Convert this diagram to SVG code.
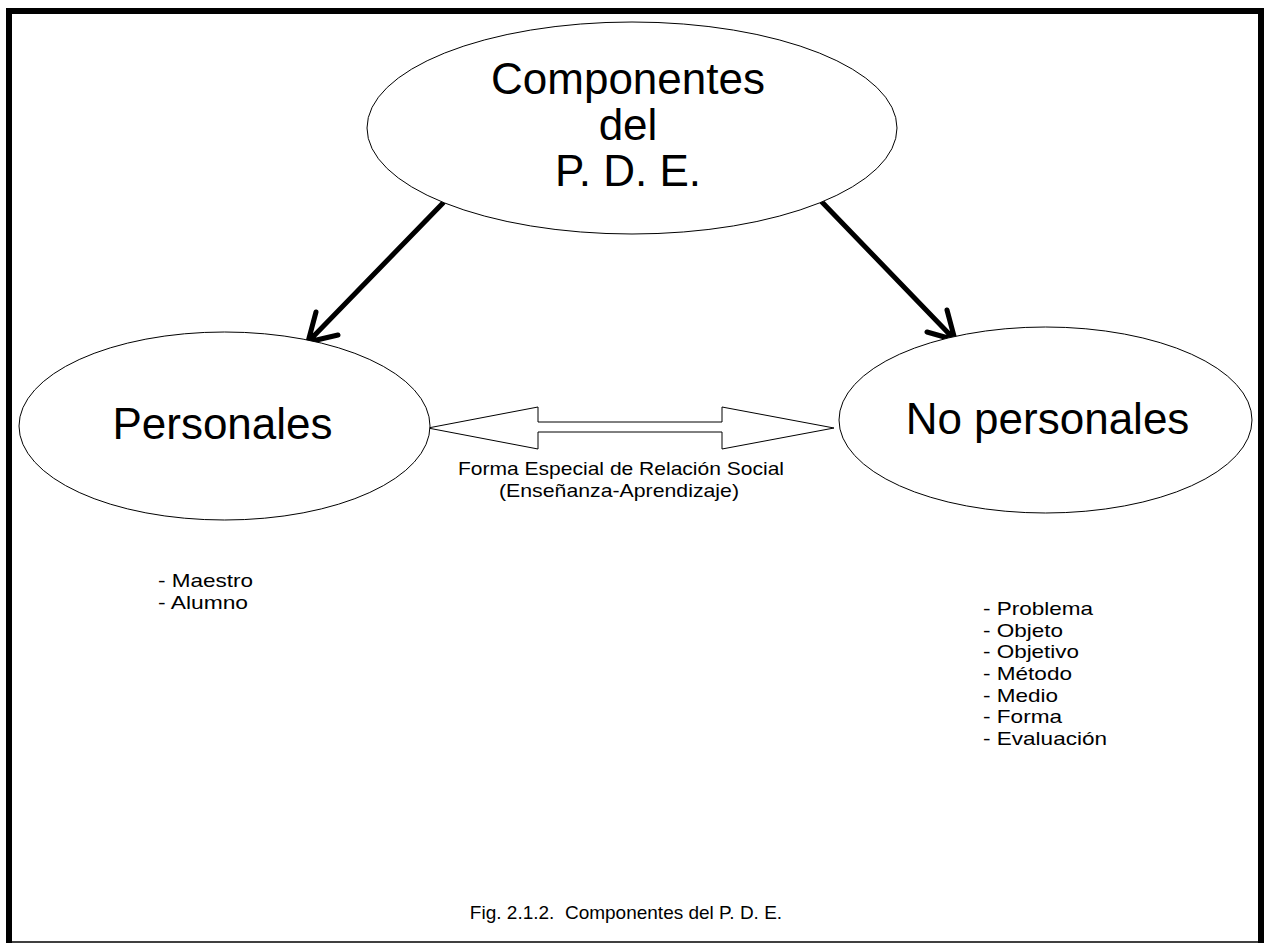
<svg xmlns="http://www.w3.org/2000/svg" width="1266" height="943" viewBox="0 0 1266 943">
<style>
.ell{fill:#fff;stroke:#000;stroke-width:1}
.big{font-family:"Liberation Sans",Arial,sans-serif;fill:#000;text-anchor:middle}
.sm{font-family:"Liberation Sans",Arial,sans-serif;fill:#000;font-size:19px}
.conn{stroke:#000;stroke-width:5;fill:none;stroke-linecap:round;stroke-linejoin:round}
</style>
<rect x="0" y="0" width="1266" height="943" fill="#fff"/>
<g id="frame">
<line x1="6" y1="11" x2="1264" y2="11" stroke="#000" stroke-width="6"/>
<line x1="9" y1="8" x2="9" y2="943" stroke="#000" stroke-width="6"/>
<line x1="1261" y1="8" x2="1261" y2="943" stroke="#000" stroke-width="6"/>
<line x1="6" y1="942" x2="1264" y2="942" stroke="#000" stroke-width="1.5"/>
</g>
<g id="connectors">
<path class="conn" d="M443,203 L308,342 M316,312 L308,342 L338,335"/>
<path class="conn" d="M820,200 L955,340 M947,310 L955,340 L927,332"/>
<polygon points="428,428 538,407 538,422 722,422 722,407 834,428 722,449 722,432 538,432 538,449" fill="#fff" stroke="#000" stroke-width="1"/>
</g>
<g id="node-componentes">
<ellipse class="ell" cx="632" cy="128" rx="265" ry="106"/>
<text class="big" font-size="44" x="628" y="94">Componentes</text>
<text class="big" font-size="44" x="628" y="140">del</text>
<text class="big" font-size="44" x="628" y="186">P. D. E.</text>
</g>
<g id="node-personales">
<ellipse class="ell" cx="224.5" cy="426" rx="205.5" ry="94"/>
<text class="big" font-size="44" x="222.5" y="439">Personales</text>
</g>
<g id="node-nopersonales">
<ellipse class="ell" cx="1045.5" cy="420" rx="206.5" ry="93"/>
<text class="big" font-size="44" x="1047.5" y="434">No personales</text>
</g>
<g id="relation-label">
<text class="sm" x="458" y="475" textLength="326" lengthAdjust="spacingAndGlyphs">Forma Especial de Relación Social</text>
<text class="sm" x="499" y="497" textLength="240" lengthAdjust="spacingAndGlyphs">(Enseñanza-Aprendizaje)</text>
</g>
<g id="list-personales">
<text class="sm" x="158" y="587" textLength="95" lengthAdjust="spacingAndGlyphs">- Maestro</text>
<text class="sm" x="158" y="609" textLength="90" lengthAdjust="spacingAndGlyphs">- Alumno</text>
</g>
<g id="list-nopersonales">
<text class="sm" x="983" y="615" textLength="110" lengthAdjust="spacingAndGlyphs">- Problema</text>
<text class="sm" x="983" y="637" textLength="80" lengthAdjust="spacingAndGlyphs">- Objeto</text>
<text class="sm" x="983" y="658" textLength="96" lengthAdjust="spacingAndGlyphs">- Objetivo</text>
<text class="sm" x="983" y="680" textLength="89" lengthAdjust="spacingAndGlyphs">- Método</text>
<text class="sm" x="983" y="702" textLength="75" lengthAdjust="spacingAndGlyphs">- Medio</text>
<text class="sm" x="983" y="723" textLength="79" lengthAdjust="spacingAndGlyphs">- Forma</text>
<text class="sm" x="983" y="745" textLength="124" lengthAdjust="spacingAndGlyphs">- Evaluación</text>
</g>
<g id="caption">
<text class="sm" text-anchor="middle" x="626" y="919" xml:space="preserve">Fig. 2.1.2.  Componentes del P. D. E.</text>
</g>
</svg>
